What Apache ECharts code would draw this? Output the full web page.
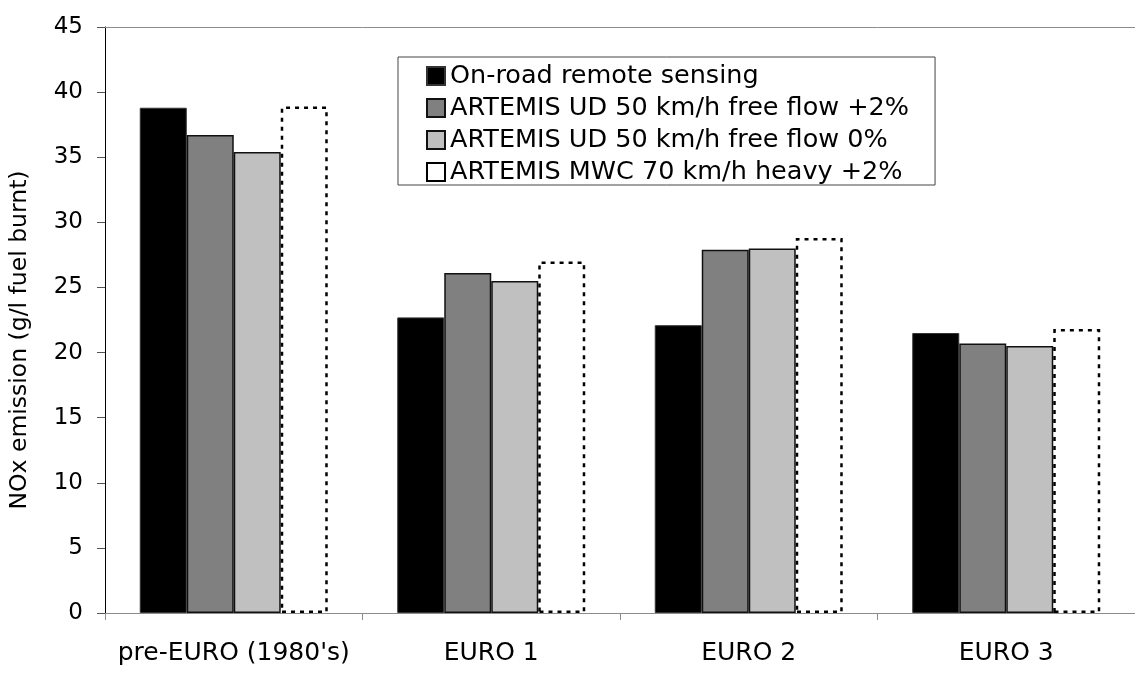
<!DOCTYPE html>
<html>
<head>
<meta charset="utf-8">
<script src="https://cdn.jsdelivr.net/npm/echarts@6/dist/echarts.min.js"></script>
<style>
  html, body { margin: 0; padding: 0; background: #fff; }
  #chart { width: 1135px; height: 674px; }
</style>
</head>
<body>
<div id="chart"></div>
<script>
// NOx emission factors per vehicle emission class
const categories = ["pre-EURO (1980's)", 'EURO 1', 'EURO 2', 'EURO 3'];
const seriesNames = [
  'On-road remote sensing',
  'ARTEMIS UD 50 km/h free flow +2%',
  'ARTEMIS UD 50 km/h free flow 0%',
  'ARTEMIS MWC 70 km/h heavy +2%'
];
const onRoad = [38.8, 22.7, 22.1, 21.5];
const udFree2 = [36.7, 26.1, 27.9, 20.7];
const udFree0 = [35.4, 25.5, 28.0, 20.5];
const mwcHeavy2 = [38.9, 27.0, 28.8, 21.8];
const yTicks = [0, 5, 10, 15, 20, 25, 30, 35, 40, 45];
const yTitle = 'NOx emission (g/l fuel burnt)';

const FONT = 'DejaVu Sans';

const styles = [
  { color: '#000000', borderColor: '#333333', borderWidth: 1 },
  { color: '#808080', borderColor: '#111111', borderWidth: 1.5 },
  { color: '#c0c0c0', borderColor: '#111111', borderWidth: 1.5 },
  { color: '#ffffff', borderColor: '#000000', borderWidth: 2.5, borderType: [4, 5] }
];
const values = [onRoad, udFree2, udFree0, mwcHeavy2];

const chart = echarts.init(document.getElementById('chart'), null, { renderer: 'canvas' });

chart.setOption({
  animation: false,
  backgroundColor: '#ffffff',
  grid: { left: 105, right: -5, top: 27, bottom: 61 },
  legend: {
    orient: 'vertical',
    left: 398,
    top: 57,
    padding: [6, 26, 0, 28],
    borderColor: '#444444',
    borderWidth: 1,
    backgroundColor: '#ffffff',
    icon: 'rect',
    itemWidth: 18,
    itemHeight: 18,
    itemGap: 6,
    textStyle: { fontFamily: FONT, fontSize: 25.5, color: '#000' },
    data: seriesNames
  },
  graphic: [
    {
      type: 'text',
      x: 20,
      y: 340,
      rotation: Math.PI / 2,
      style: {
        text: yTitle,
        fontFamily: FONT,
        fontSize: 23.5,
        fill: '#000',
        align: 'center',
        verticalAlign: 'middle'
      }
    }
  ],
  xAxis: [
    {
      type: 'category',
      data: categories,
      position: 'bottom',
      axisLine: { lineStyle: { color: '#8c8c8c', width: 1 } },
      axisTick: { show: true, inside: false, length: 7, interval: 0, lineStyle: { color: '#8c8c8c' } },
      axisLabel: { fontFamily: FONT, fontSize: 25, color: '#000', margin: 28, interval: 0 },
      splitLine: { show: false }
    },
    {
      // upper frame line at the axis maximum
      type: 'category',
      data: categories,
      position: 'top',
      axisLine: { lineStyle: { color: '#8c8c8c', width: 1 } },
      axisTick: { show: false },
      axisLabel: { show: false },
      splitLine: { show: false }
    }
  ],
  yAxis: {
    type: 'value',
    min: yTicks[0],
    max: yTicks[yTicks.length - 1],
    interval: 5,
    axisLine: { show: true, lineStyle: { color: '#000', width: 1 } },
    axisTick: { show: true, inside: false, length: 8, lineStyle: { color: '#555' } },
    axisLabel: { fontFamily: FONT, fontSize: 23, color: '#000', margin: 22 },
    splitLine: { show: false }
  },
  series: seriesNames.map((name, i) => ({
    name,
    type: 'bar',
    xAxisIndex: 0,
    data: values[i],
    barGap: '0%',
    barCategoryGap: '27%',
    itemStyle: styles[i]
  }))
});
</script>
</body>
</html>
